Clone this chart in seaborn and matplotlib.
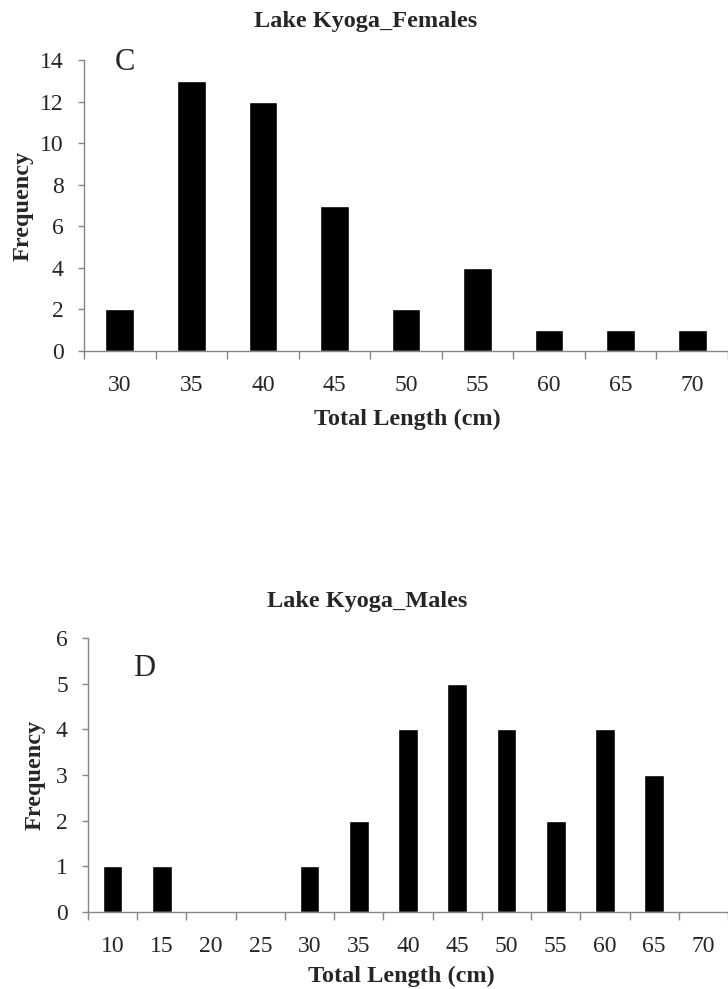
import matplotlib
matplotlib.use("Agg")
import matplotlib.pyplot as plt
from matplotlib.ticker import FixedLocator
import numpy as np
import pandas as pd
import seaborn as sns

# Length-frequency data, Lake Kyoga
female_lengths = ["30", "35", "40", "45", "50", "55", "60", "65", "70"]
female_counts = [2, 13, 12, 7, 2, 4, 1, 1, 1]

male_lengths = ["10", "15", "20", "25", "30", "35", "40", "45", "50", "55", "60", "65", "70"]
male_counts = [1, 1, 0, 0, 1, 2, 4, 5, 4, 2, 4, 3, 0]

sns.set_theme(style="white")
plt.rcParams["font.family"] = ["Liberation Serif", "DejaVu Serif"]

AXIS_GREY = "#868686"

fig = plt.figure(figsize=(7.28, 9.89), dpi=100)
W, H = 728, 989


def px_axes(left, right, top, bottom):
    return fig.add_axes([left / W, 1 - bottom / H, (right - left) / W, (bottom - top) / H])


ax1 = px_axes(84, 728, 60, 351)
ax2 = px_axes(88, 728, 638, 912)


def draw_panel(ax, lengths, counts, letter, ymax, ystep, letter_xy,
               xlabel_pos, ylabel_pos):
    df = pd.DataFrame({"length": lengths, "count": counts})
    sns.barplot(data=df, x="length", y="count", order=lengths, color="black",
                width=0.4, saturation=1, ax=ax)
    n = len(lengths)
    ax.set_xlim(-0.5, n - 0.5)
    ax.set_ylim(0, ymax)
    ax.set_yticks(np.arange(0, ymax + 0.01, ystep))
    # tick marks sit on the category boundaries, labels at the centres
    ax.xaxis.set_minor_locator(FixedLocator(np.arange(-0.5, n, 1.0)))
    ax.tick_params(axis="x", which="major", length=0, labelsize=17, pad=17)
    ax.tick_params(axis="x", which="minor", length=5.5, width=1, color=AXIS_GREY,
                   direction="out", bottom=True)
    ax.tick_params(axis="y", length=4.5, width=1, color=AXIS_GREY, direction="out",
                   left=True, labelsize=17, pad=10)
    for side in ("top", "right"):
        ax.spines[side].set_visible(False)
    for side in ("left", "bottom"):
        ax.spines[side].set_color(AXIS_GREY)
        ax.spines[side].set_linewidth(1)
    ax.set_xlabel("Total Length (cm)", fontsize=17.5, fontweight="bold")
    ax.set_ylabel("Frequency", fontsize=17.5, fontweight="bold")
    ax.xaxis.set_label_coords(*xlabel_pos)
    ax.yaxis.set_label_coords(*ylabel_pos)
    ax.text(letter_xy[0], letter_xy[1], letter, fontsize=22, ha="center", va="center")


draw_panel(ax1, female_lengths, female_counts, "C", 14, 2, (0.07, 13.9),
           (0.5015, -0.200), (-0.079, 0.5))
draw_panel(ax2, male_lengths, male_counts, "D", 6, 1, (0.64, 5.34),
           (0.49, -0.195), (-0.067, 0.5))

fig.text(366 / W, 1 - 22 / H, "Lake Kyoga_Females", fontsize=17.5,
         fontweight="bold", ha="center", va="center")
fig.text(367 / W, 1 - 602 / H, "Lake Kyoga_Males", fontsize=17.5,
         fontweight="bold", ha="center", va="center")

fig.savefig("out.png", dpi=100)
